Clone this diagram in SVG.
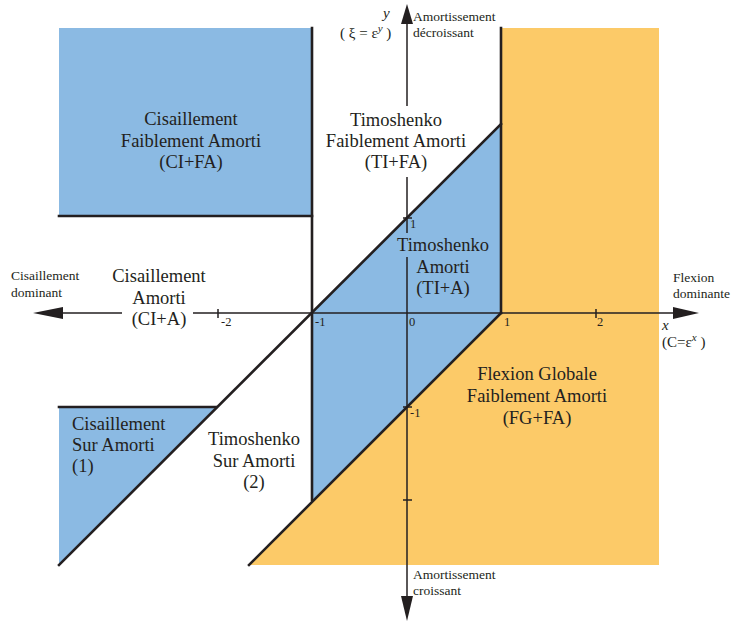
<svg xmlns="http://www.w3.org/2000/svg" width="737" height="626" viewBox="0 0 737 626">
<defs>
<style>
.blue{fill:#8BBAE3;stroke:none}
.orange{fill:#FCCA68;stroke:none}
.border{stroke:#231F20;stroke-width:2.6;fill:none;stroke-linecap:square}
.axis{stroke:#231F20;stroke-width:1.5;fill:none}
.head{fill:#231F20}
.lbl{font-family:"Liberation Serif",serif;font-size:18.5px;fill:#231F20;text-anchor:middle}
.ax{font-family:"Liberation Serif",serif;font-size:13.5px;fill:#231F20}
.eq{font-family:"Liberation Serif",serif;font-size:15px;fill:#231F20}
.tick{font-family:"Liberation Serif",serif;font-size:12.5px;fill:#231F20}
.it{font-family:"Liberation Serif",serif;font-size:15px;font-style:italic;fill:#231F20}
</style>
</defs>
<rect width="737" height="626" fill="#ffffff"/>

<g id="flexion-globale">
<polygon class="orange" points="501,28 659,28 659,565 248,565 501,313"/>
<text class="lbl" x="537" y="380">Flexion Globale</text>
<text class="lbl" x="537" y="402">Faiblement Amorti</text>
<text class="lbl" x="537" y="424">(FG+FA)</text>
</g>

<g id="cisaillement-faiblement-amorti">
<rect class="blue" x="59" y="28" width="253" height="188"/>
<text class="lbl" x="191" y="125">Cisaillement</text>
<text class="lbl" x="191" y="147">Faiblement Amorti</text>
<text class="lbl" x="191" y="168">(CI+FA)</text>
</g>

<g id="timoshenko-amorti">
<polygon class="blue" points="312,313 501,124 501,313 312,502"/>
<rect class="blue" x="396" y="234" width="94" height="22"/>
<text class="lbl" x="443" y="251">Timoshenko</text>
<text class="lbl" x="443" y="273">Amorti</text>
<text class="lbl" x="443" y="294">(TI+A)</text>
</g>

<g id="cisaillement-sur-amorti">
<polygon class="blue" points="59,407 216,407 59,565"/>
<text class="lbl" x="72" y="430" style="text-anchor:start">Cisaillement</text>
<text class="lbl" x="72" y="451" style="text-anchor:start">Sur Amorti</text>
<text class="lbl" x="72" y="472" style="text-anchor:start">(1)</text>
</g>

<g id="timoshenko-faiblement-amorti">
<text class="lbl" x="396" y="126">Timoshenko</text>
<text class="lbl" x="396" y="147">Faiblement Amorti</text>
<text class="lbl" x="396" y="168">(TI+FA)</text>
</g>

<g id="timoshenko-sur-amorti">
<text class="lbl" x="254" y="445">Timoshenko</text>
<text class="lbl" x="254" y="467">Sur Amorti</text>
<text class="lbl" x="254" y="488">(2)</text>
</g>

<g id="cisaillement-amorti">
<text class="lbl" x="159" y="282">Cisaillement</text>
<text class="lbl" x="159" y="304">Amorti</text>
<text class="lbl" x="159" y="325">(CI+A)</text>
</g>

<g id="borders">
<line class="border" x1="59" y1="216" x2="312" y2="216"/>
<line class="border" x1="312" y1="28" x2="312" y2="500"/>
<line class="border" x1="501" y1="28" x2="501" y2="313"/>
<line class="border" x1="59" y1="407" x2="216" y2="407"/>
<polyline class="border" points="501,124 59,565"/>
<line class="border" x1="501" y1="313" x2="249" y2="565"/>
</g>

<g id="connectors">
<line class="axis" x1="62" y1="313" x2="122" y2="313"/>
<line class="axis" x1="193" y1="313" x2="675" y2="313"/>
<polygon class="head" points="33,313 63,307 63,319"/>
<polygon class="head" points="699,313 673,307 673,319"/>
<line class="axis" x1="407" y1="22" x2="407" y2="106"/>
<line class="axis" x1="407" y1="177" x2="407" y2="233"/>
<line class="axis" x1="407" y1="257" x2="407" y2="597"/>
<polygon class="head" points="407,4 401,24 413,24"/>
<polygon class="head" points="407,621 401,596 413,596"/>
<line class="axis" x1="218" y1="309" x2="218" y2="318"/>
<line class="axis" x1="596" y1="309" x2="596" y2="318"/>
<line class="axis" x1="403" y1="218" x2="412" y2="218"/>
<line class="axis" x1="403" y1="407" x2="412" y2="407"/>
<line class="axis" x1="403" y1="500" x2="412" y2="500"/>
</g>

<g id="axis-labels">
<text class="tick" x="221" y="326">-2</text>
<text class="tick" x="315" y="326">-1</text>
<text class="tick" x="409" y="326">0</text>
<text class="tick" x="504" y="326">1</text>
<text class="tick" x="597" y="326">2</text>
<text class="tick" x="410" y="228">1</text>
<text class="tick" x="410" y="417">-1</text>
<text class="ax" x="413" y="21">Amortissement</text>
<text class="ax" x="413" y="37">décroissant</text>
<text class="it" x="383" y="18">y</text>
<text class="eq" x="340" y="38">( ξ = ε<tspan font-style="italic" font-size="11" dy="-6">y</tspan><tspan dy="6"> )</tspan></text>
<text class="ax" x="673" y="282">Flexion</text>
<text class="ax" x="673" y="298">dominante</text>
<text class="it" x="662" y="330">x</text>
<text class="eq" x="662" y="347">(C=ε<tspan font-style="italic" font-size="11" dy="-6">x</tspan><tspan dy="6"> )</tspan></text>
<text class="ax" x="11" y="280">Cisaillement</text>
<text class="ax" x="11" y="297">dominant</text>
<text class="ax" x="413" y="579">Amortissement</text>
<text class="ax" x="413" y="595">croissant</text>
</g>
</svg>
